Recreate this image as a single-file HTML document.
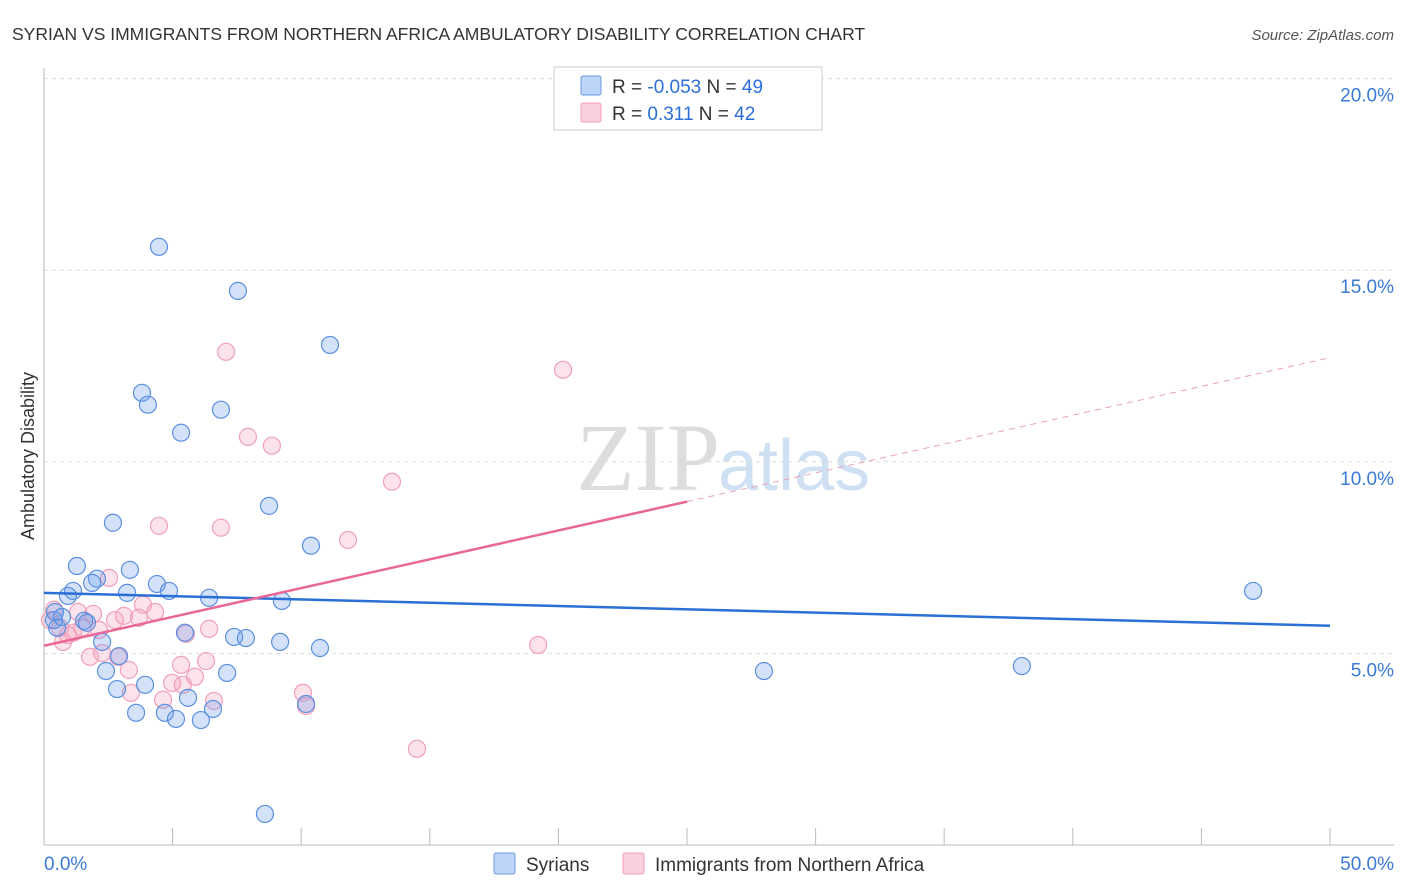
<!DOCTYPE html>
<html><head><meta charset="utf-8"><style>
body{margin:0;background:#fff;font-family:"Liberation Sans",sans-serif;}
svg{display:block}
</style></head><body>
<svg id="chart" width="1406" height="892">
<text x="12" y="40" font-size="17.5" fill="#333">SYRIAN VS IMMIGRANTS FROM NORTHERN AFRICA AMBULATORY DISABILITY CORRELATION CHART</text>
<text x="1394" y="40" font-size="15" fill="#555" text-anchor="end" font-style="italic">Source: ZipAtlas.com</text>
<text x="34" y="456" font-size="18" fill="#333" text-anchor="middle" transform="rotate(-90 34 456)">Ambulatory Disability</text>
<text x="720" y="490" font-size="96" fill="#ddd" text-anchor="end" font-family="Liberation Serif,serif">ZIP</text>
<text x="718" y="490" font-size="72" fill="#cfe0f3">atlas</text>
<g id="grid"></g><g id="pts"></g><g id="lines"></g>
<g>
<rect x="554" y="67" width="268" height="63" fill="#fff" stroke="#ccc"/>
<rect x="581" y="76" width="20" height="19" fill="#bcd4f5" stroke="#6a9be0" rx="2"/>
<rect x="581" y="103" width="20" height="19" fill="#fbd0dd" stroke="#f0a0b8" rx="2"/>
<text x="612" y="93" font-size="19" fill="#333">R = <tspan fill="#2a6fd6">-0.053</tspan>   N = <tspan fill="#2a6fd6">49</tspan></text>
<text x="612" y="120" font-size="19" fill="#333">R =    <tspan fill="#2a6fd6">0.311</tspan>   N = <tspan fill="#2a6fd6">42</tspan></text>
</g>
<g>
<rect x="494" y="853" width="21" height="21" fill="#bcd4f5" stroke="#6a9be0" rx="2"/>
<text x="526" y="871" font-size="19" fill="#333">Syrians</text>
<rect x="623" y="853" width="21" height="21" fill="#fbd0dd" stroke="#f0a0b8" rx="2"/>
<text x="655" y="871" font-size="19" fill="#333">Immigrants from Northern Africa</text>
</g>
<text x="44" y="870" font-size="19" fill="#3a7bd5">0.0%</text>
<text x="1394" y="870" font-size="19" fill="#3a7bd5" text-anchor="end">50.0%</text>
</svg>
<script>
const yTicks=[5,10,15,20];
const yTickLabels=["5.0%","10.0%","15.0%","20.0%"];
const xTicks=[0,5,10,15,20,25,30,35,40,45,50];
const syrX=[4.47,7.54,11.12,3.81,4.04,6.88,5.33,2.68,8.75,10.38,1.28,3.34,2.06,1.87,4.39,4.86,1.13,3.23,0.93,6.42,9.25,0.43,0.51,1.56,1.67,5.48,7.39,7.85,9.18,2.26,10.73,2.92,2.41,7.12,3.93,2.84,5.60,3.58,4.70,6.57,5.13,6.10,10.19,8.59,27.99,38.02,47.01,0.39,0.70];
const syrY=[15.61,14.46,13.05,11.80,11.49,11.36,10.76,8.41,8.85,7.81,7.28,7.18,6.95,6.84,6.81,6.63,6.63,6.58,6.50,6.45,6.37,6.08,5.67,5.85,5.80,5.54,5.43,5.40,5.30,5.30,5.14,4.93,4.54,4.49,4.18,4.07,3.84,3.45,3.45,3.55,3.29,3.26,3.68,0.81,4.54,4.67,6.63,5.87,5.95];
const afrX=[7.08,20.18,7.93,8.86,13.53,4.47,6.88,11.82,2.53,1.91,3.85,4.32,3.11,2.76,3.69,1.48,1.13,0.74,5.52,6.42,2.14,1.79,2.26,2.88,3.30,5.33,6.30,4.98,5.40,5.87,3.38,4.63,6.61,10.07,10.19,19.21,14.50,0.39,0.23,0.62,0.93,1.32];
const afrY=[12.87,12.40,10.65,10.42,9.48,8.33,8.28,7.96,6.97,6.03,6.27,6.08,5.98,5.87,5.93,5.67,5.54,5.30,5.51,5.64,5.61,4.91,5.01,4.91,4.57,4.70,4.80,4.23,4.18,4.39,3.97,3.79,3.76,3.97,3.63,5.22,2.51,6.14,5.87,5.67,5.48,6.08];
const syrTrend=[6.58,5.72]; // y at x=0 and x=50
const afrTrend=[5.20,12.72];
const afrSolidEnd=25;
const NS="http://www.w3.org/2000/svg";
const X=v=>44+v/50*1286, Y=v=>845-v*38.32;
function mk(t,a,p){const e=document.createElementNS(NS,t);for(const k in a)e.setAttribute(k,a[k]);p.appendChild(e);return e;}
const grid=document.getElementById('grid');
yTicks.forEach((t,i)=>{
 const l=mk('line',{x1:44,x2:1394,y1:Y(t),y2:Y(t),stroke:'#ddd','stroke-dasharray':'4,4'},grid);
 
 
 const tx=mk('text',{x:1394,y:Y(t)+23,'font-size':19,fill:'#3a7bd5','text-anchor':'end'},grid);
 tx.textContent=yTickLabels[i];
 
 
});
mk('line',{x1:44,x2:44,y1:68,y2:845,stroke:'#bbb'},grid);
mk('line',{x1:44,x2:1394,y1:845,y2:845,stroke:'#bbb'},grid);
xTicks.forEach(t=>{
 const l=mk('line',{x1:X(t),x2:X(t),y1:828,y2:845,stroke:'#bbb'},grid);
 
 
});
const pts=document.getElementById('pts');
afrX.forEach((x,i)=>{
 const c=mk('circle',{cx:X(x),cy:Y(afrY[i]),r:8.5,fill:'rgba(245,160,190,0.3)',stroke:'#f0a0b8','stroke-width':1.2},pts);
 
 
});
syrX.forEach((x,i)=>{
 const c=mk('circle',{cx:X(x),cy:Y(syrY[i]),r:8.5,fill:'rgba(110,160,235,0.3)',stroke:'#5b8fe0','stroke-width':1.2},pts);
 
 
});
const lines=document.getElementById('lines');
const bl=mk('line',{x1:X(0),y1:Y(syrTrend[0]),x2:X(50),y2:Y(syrTrend[1]),stroke:'#2a6fd6','stroke-width':2.5},lines);


const midY=afrTrend[0]+(afrTrend[1]-afrTrend[0])*afrSolidEnd/50;
const pl=mk('line',{x1:X(0),y1:Y(afrTrend[0]),x2:X(afrSolidEnd),y2:Y(midY),stroke:'#e8689a','stroke-width':2.5},lines);


const pd=mk('line',{x1:X(afrSolidEnd),y1:Y(midY),x2:X(50),y2:Y(afrTrend[1]),stroke:'#e8a0b8','stroke-width':1,'stroke-dasharray':'6,5'},lines);


</script>
</body></html>
